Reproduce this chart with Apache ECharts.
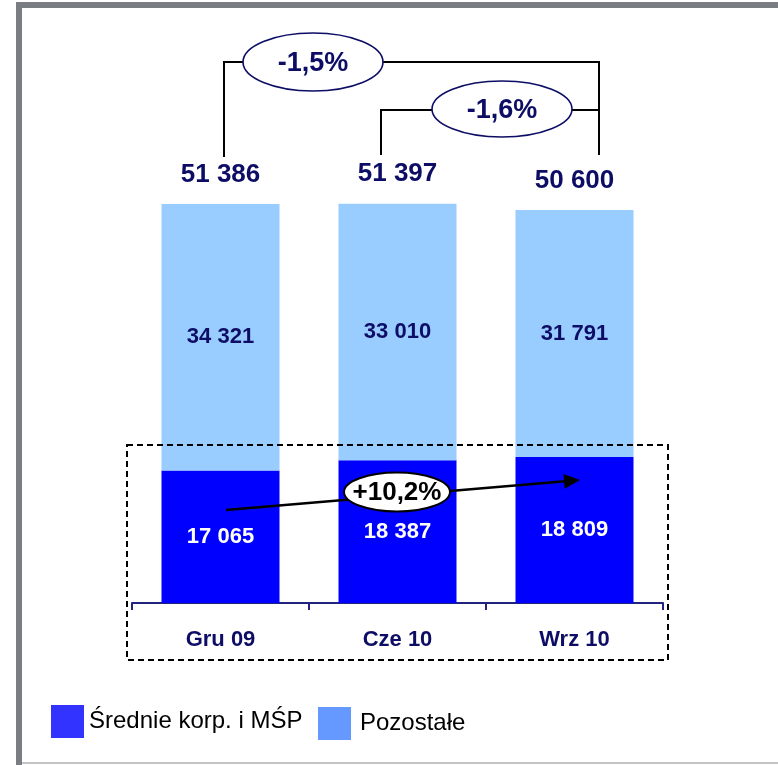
<!DOCTYPE html>
<html>
<head>
<meta charset="utf-8">
<script src="https://cdn.jsdelivr.net/npm/echarts@6/dist/echarts.min.js"></script>
<style>
html,body{margin:0;padding:0;background:#fff;}
#chart{width:778px;height:765px;}
</style>
</head>
<body>
<div id="chart"></div>
<script>
const categories = ['Gru 09', 'Cze 10', 'Wrz 10'];
const seriesNames = ['Średnie korp. i MŚP', 'Pozostałe'];
const sredniaValues = [17065, 18387, 18809];
const pozostaleValues = [34321, 33010, 31791];
const totals = [51386, 51397, 50600];
const changeLabels = ['-1,5%', '-1,6%', '+10,2%'];

const NAVY = '#0d0d66';
const FONT = "'Liberation Sans', Arial, sans-serif";
function fmt(n) { return String(n).replace(/\B(?=(\d{3})+(?!\d))/g, ' '); }

const chart = echarts.init(document.getElementById('chart'));

const black = '#000';
const graphics = [
  // frame
  { type: 'rect', shape: { x: 16, y: 2, width: 6, height: 763 }, style: { fill: '#7a7e82' }, z: 50 },
  { type: 'rect', shape: { x: 16, y: 2, width: 762, height: 6 }, style: { fill: '#7a7e82' }, z: 50 },
  { type: 'rect', shape: { x: 22, y: 762, width: 756, height: 2 }, style: { fill: '#c4c4c4' }, z: 50 },
  // bracket 1 (Gru 09 -> Wrz 10)
  { type: 'polyline', shape: { points: [[224, 157], [224, 62], [599, 62], [599, 155]] }, style: { stroke: black, lineWidth: 2, fill: null }, z: 60 },
  { type: 'ellipse', shape: { cx: 313, cy: 62, rx: 70, ry: 29 }, style: { fill: '#fff', stroke: NAVY, lineWidth: 1.6 }, z: 61 },
  { type: 'text', style: { text: changeLabels[0], x: 313, y: 64, align: 'center', verticalAlign: 'middle', fill: NAVY, fontSize: 27, fontWeight: 'bold', fontFamily: FONT }, z: 62 },
  // bracket 2 (Cze 10 -> Wrz 10)
  { type: 'polyline', shape: { points: [[381, 155], [381, 110], [599, 110]] }, style: { stroke: black, lineWidth: 2, fill: null }, z: 60 },
  { type: 'ellipse', shape: { cx: 502, cy: 109, rx: 70, ry: 28 }, style: { fill: '#fff', stroke: NAVY, lineWidth: 1.6 }, z: 61 },
  { type: 'text', style: { text: changeLabels[1], x: 502, y: 111, align: 'center', verticalAlign: 'middle', fill: NAVY, fontSize: 27, fontWeight: 'bold', fontFamily: FONT }, z: 62 },
  // dashed box
  { type: 'rect', shape: { x: 127, y: 445, width: 541, height: 215 }, style: { fill: null, stroke: black, lineWidth: 2, lineDash: [6, 4] }, z: 60 },
  // arrow
  { type: 'line', shape: { x1: 226, y1: 510, x2: 565, y2: 481.3 }, style: { stroke: black, lineWidth: 2.5 }, z: 60 },
  { type: 'polygon', shape: { points: [[580, 480], [564.7, 488.8], [563.5, 473.9]] }, style: { fill: black }, z: 60 },
  { type: 'ellipse', shape: { cx: 397, cy: 492, rx: 53, ry: 19.5 }, style: { fill: '#fff', stroke: black, lineWidth: 2 }, z: 61 },
  { type: 'text', style: { text: changeLabels[2], x: 397, y: 493, align: 'center', verticalAlign: 'middle', fill: black, fontSize: 26, fontWeight: 'bold', fontFamily: FONT }, z: 62 }
];

const option = {
  animation: false,
  backgroundColor: '#fff',
  textStyle: { fontFamily: FONT },
  grid: { left: 132, right: 115, top: 137, bottom: 162 },
  legend: [
    {
      left: 51, top: 705, padding: 0, itemWidth: 33, itemHeight: 33, selectedMode: false,
      icon: 'rect',
      data: [{ name: seriesNames[0], itemStyle: { color: '#3333ff' } }],
      textStyle: { fontSize: 24, color: '#000', fontFamily: FONT, padding: [-3, 0, 0, 0] }
    },
    {
      left: 318, top: 707, padding: 0, itemWidth: 33, itemHeight: 33, selectedMode: false,
      icon: 'rect',
      data: [{ name: seriesNames[1], itemStyle: { color: '#6699ff' } }],
      textStyle: { fontSize: 24, color: '#000', fontFamily: FONT, padding: [10, 0, 0, 4] }
    }
  ],
  xAxis: {
    type: 'category',
    data: categories,
    boundaryGap: true,
    axisLine: { lineStyle: { color: '#22227f', width: 2 } },
    axisTick: { show: true, length: 7, alignWithLabel: false, lineStyle: { color: '#22227f', width: 2 } },
    axisLabel: { margin: 26, fontSize: 22, fontWeight: 'bold', color: NAVY, fontFamily: FONT },
    splitLine: { show: false }
  },
  yAxis: { type: 'value', min: 0, max: 60000, show: false, splitLine: { show: false } },
  series: [
    {
      name: seriesNames[0], type: 'bar', stack: 'total', barWidth: 118,
      data: sredniaValues,
      itemStyle: { color: '#0000ff' },
      label: { show: true, position: 'inside', formatter: p => fmt(p.value), color: '#fff', fontSize: 22, fontWeight: 'bold', fontFamily: FONT }
    },
    {
      name: seriesNames[1], type: 'bar', stack: 'total', barWidth: 118,
      data: pozostaleValues,
      itemStyle: { color: '#99ccff' },
      label: { show: true, position: 'inside', formatter: p => fmt(p.value), color: NAVY, fontSize: 22, fontWeight: 'bold', fontFamily: FONT }
    },
    {
      name: 'Razem', type: 'scatter', data: totals, symbol: 'rect', symbolSize: 1, silent: true,
      itemStyle: { color: 'rgba(0,0,0,0)', opacity: 1 },
      label: { show: true, position: 'top', distance: 16, opacity: 1, formatter: p => fmt(p.value), color: NAVY, fontSize: 26, fontWeight: 'bold', fontFamily: FONT }
    }
  ],
  graphic: { elements: graphics }
};
chart.setOption(option);
</script>
</body>
</html>
